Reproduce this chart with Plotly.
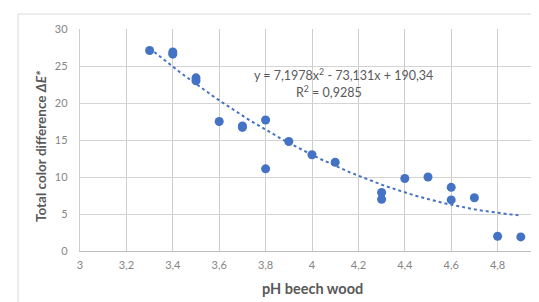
import plotly.graph_objects as go
import numpy as np

ph = [3.3, 3.4, 3.4, 3.5, 3.5, 3.6, 3.7, 3.7, 3.8, 3.8, 3.9, 4.0, 4.1, 4.3, 4.3, 4.4, 4.5, 4.6, 4.6, 4.7, 4.8, 4.9]
delta_e = [27.1, 26.9, 26.6, 23.4, 23.0, 17.5, 16.9, 16.7, 17.7, 11.1, 14.8, 13.0, 12.0, 7.9, 7.0, 9.8, 10.0, 8.6, 6.9, 7.2, 2.0, 1.9]
trend_coef = [7.1978, -73.131, 190.34]
x_ticks = [3, 3.2, 3.4, 3.6, 3.8, 4, 4.2, 4.4, 4.6, 4.8, 5]
y_ticks = [0, 5, 10, 15, 20, 25, 30]

BLUE = "#4472C4"
FONT = "Lato"
GRID = "#d4d4d4"
VGRID = "#cdcdcd"

tx = np.linspace(min(ph), max(ph), 100)
ty = np.polyval(trend_coef, tx)

fig = go.Figure()
fig.add_trace(go.Scatter(x=tx, y=ty, mode="lines",
                         line=dict(color=BLUE, width=2, dash="dot"),
                         hoverinfo="skip", showlegend=False))
fig.add_trace(go.Scatter(x=ph, y=delta_e, mode="markers",
                         marker=dict(color=BLUE, size=9),
                         showlegend=False))

W, H = 539, 302
L, R, T, B = 72, 3, 21, 59
pw, ph_ = W - L - R, H - T - B

def px2x(p):
    return (p - L) / pw

def py2y(p):
    return (H - B - p) / ph_

fig.update_layout(
    width=W, height=H,
    margin=dict(l=L, r=R, t=T, b=B),
    paper_bgcolor="white", plot_bgcolor="white",
    separators=",.",
    font=dict(family=FONT, color="#858585", size=11),
    xaxis=dict(range=[3, 5], tickvals=x_ticks, tickformat=".1~f",
               showgrid=True, gridcolor=VGRID, gridwidth=1.4,
               showline=True, linecolor="#bfbfbf", zeroline=False,
               ticks="", ticklabelstandoff=4),
    yaxis=dict(range=[0, 30], tickvals=y_ticks,
               showgrid=True, gridcolor=GRID, gridwidth=1.2,
               zeroline=False, showline=True, linecolor=VGRID, linewidth=1.4,
               ticks="", ticklabelstandoff=9),
    annotations=[
        dict(x=px2x(335), y=py2y(66), xref="paper", yref="paper",
             text="y = 7,1978x<sup>2</sup> - 73,131x + 190,34",
             showarrow=False, font=dict(family=FONT, size=12.5, color="#595959"),
             xanchor="center", yanchor="middle"),
        dict(x=px2x(321), y=py2y(83), xref="paper", yref="paper",
             text="R<sup>2</sup> = 0,9285",
             showarrow=False, font=dict(family=FONT, size=12.5, color="#595959"),
             xanchor="center", yanchor="middle"),
        dict(x=px2x(304), y=py2y(280), xref="paper", yref="paper",
             text="<b>pH beech wood</b>",
             showarrow=False, font=dict(family=FONT, size=14.5, color="#595959"),
             xanchor="center", yanchor="middle"),
        dict(x=px2x(33), y=py2y(138), xref="paper", yref="paper",
             text="<b>Total color difference <i>ΔE*</i></b>", textangle=-90,
             showarrow=False, font=dict(family=FONT, size=13.5, color="#595959"),
             xanchor="center", yanchor="middle"),
    ],
    shapes=[
        dict(type="rect", xref="paper", yref="paper",
             x0=px2x(10), x1=px2x(538), y0=py2y(305), y1=py2y(6),
             line=dict(color="#d9d9d9", width=1), fillcolor="rgba(0,0,0,0)",
             layer="below"),
        dict(type="line", xref="paper", yref="paper",
             x0=1, x1=1, y0=0, y1=1, line=dict(color=VGRID, width=1.4)),
    ],
)

fig.write_html("out.html")
